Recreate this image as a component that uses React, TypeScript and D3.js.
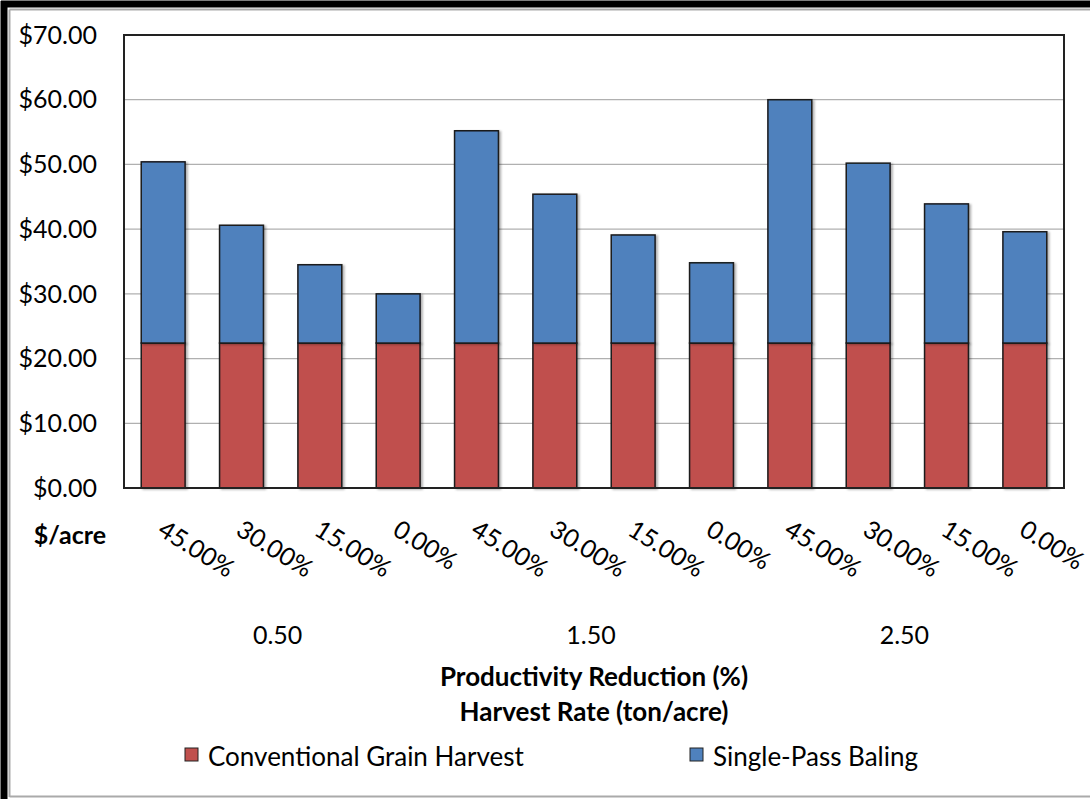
import React from "react";
import * as d3 from "d3";

const categories = ["45.00%", "30.00%", "15.00%", "0.00%", "45.00%", "30.00%", "15.00%", "0.00%", "45.00%", "30.00%", "15.00%", "0.00%"];
const groups = ["0.50", "1.50", "2.50"];
const conventional = [22.4, 22.4, 22.4, 22.4, 22.4, 22.4, 22.4, 22.4, 22.4, 22.4, 22.4, 22.4];
const singlePass = [28.0, 18.2, 12.1, 7.6, 32.8, 23.0, 16.7, 12.4, 37.6, 27.8, 21.5, 17.2];
const yTicks = [0, 10, 20, 30, 40, 50, 60, 70];
const seriesNames = ["Conventional Grain Harvest", "Single-Pass Baling"];
const colors = ["#C0504D", "#4F81BD"];

const W = 1090, H = 799;
const M = { left: 124, right: 1064, top: 35, bottom: 488 };
const FONT = "Lato, 'Open Sans', sans-serif";

export default function App() {
  const x = d3.scaleBand<number>().domain(d3.range(categories.length)).range([M.left, M.right]).paddingInner(0.44).paddingOuter(0.22);
  const y = d3.scaleLinear().domain([0, 70]).range([M.bottom, M.top]);
  const groupW = (M.right - M.left) / groups.length;
  const fmt = (v: number) => "$" + d3.format(".2f")(v);

  return (
    <svg width={W} height={H} style={{ position: "absolute", left: 0, top: 0, background: "#fff" }} fontFamily={FONT}>
      <defs>
        <filter id="sh" x="-20%" y="-20%" width="150%" height="150%">
          <feDropShadow dx="2" dy="1" stdDeviation="1.2" floodColor="#000" floodOpacity="0.3" />
        </filter>
      </defs>
      {/* outer frame */}
      <rect x={0} y={0} width={W} height={H} fill="#fff" />
      <line x1={1} y1={4} x2={W} y2={4} stroke="#000" strokeWidth={7} />
      <line x1={4} y1={1} x2={4} y2={H} stroke="#000" strokeWidth={7} />
      <line x1={9.5} y1={9.5} x2={W} y2={9.5} stroke="#aaa" strokeWidth={2} />
      <line x1={9.5} y1={9.5} x2={9.5} y2={797} stroke="#aaa" strokeWidth={2} />
      <line x1={9.5} y1={796.5} x2={W} y2={796.5} stroke="#aaa" strokeWidth={2} />

      {/* gridlines */}
      {yTicks.map((t) => (
        <line key={t} x1={M.left} x2={M.right} y1={y(t)} y2={y(t)} stroke="#b0b0b0" strokeWidth={1.3} />
      ))}
      {/* bars */}
      {categories.map((c, i) => {
        const x0 = x(i)!;
        const bw = x.bandwidth();
        const c0 = conventional[i];
        const s0 = singlePass[i];
        return (
          <g key={i}>
            <rect x={x0} y={y(c0)} width={bw} height={y(0) - y(c0)} fill={colors[0]} stroke="#1a1a1a" strokeWidth={1.5} filter="url(#sh)" />
            <rect x={x0} y={y(c0 + s0)} width={bw} height={y(c0) - y(c0 + s0)} fill={colors[1]} stroke="#1a1a1a" strokeWidth={1.5} filter="url(#sh)" />
          </g>
        );
      })}
      {/* plot border */}
      <rect x={M.left} y={M.top} width={M.right - M.left} height={M.bottom - M.top} fill="none" stroke="#222" strokeWidth={2} />
      {/* y tick labels */}
      {yTicks.map((t) => (
        <text key={t} x={97} y={y(t)} dy="0.35em" textAnchor="end" fontSize={25} fill="#000">{fmt(t)}</text>
      ))}
      <text x={106} y={544} textAnchor="end" fontSize={25} fontWeight="bold" fill="#000">$/acre</text>
      {/* category labels */}
      {categories.map((c, i) => {
        const cx = x(i)! + x.bandwidth() / 2 - 7;
        const cy = 534;
        return (
          <text key={i} x={cx} y={cy} fontSize={25} fill="#000" transform={`rotate(32 ${cx} ${cy})`}>{c}</text>
        );
      })}
      {/* group labels */}
      {groups.map((g, i) => (
        <text key={g} x={M.left + groupW * (i + 0.5) - 3} y={644} textAnchor="middle" fontSize={25} fill="#000">{g}</text>
      ))}
      <text x={594} y={686} textAnchor="middle" fontSize={26} fontWeight="bold" fill="#000">Productivity Reduction (%)</text>
      <text x={594} y={721} textAnchor="middle" fontSize={26} fontWeight="bold" fill="#000">Harvest Rate (ton/acre)</text>
      {/* legend */}
      {seriesNames.map((s, i) => {
        const lx = i === 0 ? 185 : 690;
        return (
          <g key={s}>
            <rect x={lx} y={748} width={13} height={13} fill={colors[i]} stroke="#222" strokeWidth={1} />
            <text x={lx + 23} y={766} fontSize={26} fill="#000">{s}</text>
          </g>
        );
      })}
    </svg>
  );
}
